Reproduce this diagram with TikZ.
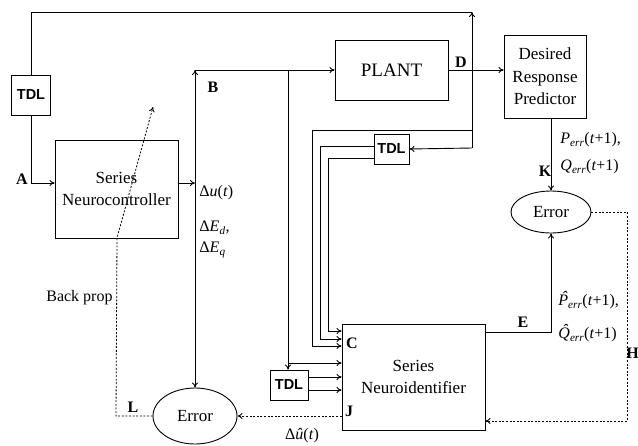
\documentclass[tikz,border=0pt]{standalone}
\usepackage{fontspec}
\setmainfont{Liberation Serif}
\newfontfamily\tdlfont{Liberation Sans}
\usetikzlibrary{arrows.meta,shapes.geometric}
\newcommand\hatcap[1]{\accent"02C6 #1}
\begin{document}
\begin{tikzpicture}[x=1pt,y=-1pt, line width=0.9pt,
  box/.style={draw, rectangle, inner sep=0pt, align=center, font=\fontsize{17}{22.5}\selectfont},
  tdl/.style={draw, rectangle, inner sep=0pt, font=\tdlfont\bfseries\fontsize{14.5}{16}\selectfont},
  errell/.style={draw, ellipse, inner sep=0pt, font=\fontsize{17}{20}\selectfont},
  lbl/.style={font=\bfseries\fontsize{16}{18}\selectfont, inner sep=0pt},
  txt/.style={font=\fontsize{16}{20}\selectfont, inner sep=0pt, anchor=west},
  arr/.style={-{To[length=5pt,width=6pt]}},
  biarr/.style={{To[length=5pt,width=6pt]}-{To[length=5pt,width=6pt]}},
  dsh/.style={dash pattern=on 2pt off 1.6pt, line width=0.8pt},
]
\useasboundingbox[fill=white] (0,0) rectangle (638,445);

% boxes
\node[tdl, minimum width=39pt, minimum height=40pt] (TDL1) at (31,95) {TDL};
\node[box, minimum width=123pt, minimum height=98pt] (NC) at (116.5,189) {Series\\Neurocontroller};
\node[box, minimum width=113pt, minimum height=60pt, font=\fontsize{19}{22}\selectfont] (PLANT) at (391.5,70) {PLANT};
\node[box, minimum width=82pt, minimum height=83pt] (DRP) at (545,76.5) {Desired\\Response\\Predictor};
\node[tdl, minimum width=35pt, minimum height=30pt] (TDL2) at (391.5,149) {TDL};
\node[box, minimum width=143pt, minimum height=106pt] (NI) at (413.5,377) {Series\\Neuroidentifier};
\node[tdl, minimum width=38pt, minimum height=30pt] (TDL3) at (289,385) {TDL};
\node[errell, minimum width=80pt, minimum height=42pt] (Err1) at (551,212) {Error};
\node[errell, minimum width=84pt, minimum height=56pt] (Err2) at (195,416) {Error};

% coordinates
\coordinate (tl) at (31,12);
\coordinate (tr) at (472,12);
\coordinate (dv) at (472,148);
\coordinate (a1) at (31,183);
\coordinate (bv) at (195,183);
\coordinate (bt) at (195,70);
\coordinate (tp) at (288,70);
\coordinate (t3) at (288,363);
\coordinate (o1) at (308,377);
\coordinate (o2) at (308,390);
\coordinate (c1) at (472,130);
\coordinate (c1a) at (312,130);
\coordinate (c1b) at (312,346);
\coordinate (m0) at (374,146);
\coordinate (m1) at (320,146);
\coordinate (m2) at (320,339);
\coordinate (n0) at (374,158);
\coordinate (n1) at (328,158);
\coordinate (n2) at (328,331);
\coordinate (e0) at (485,332);
\coordinate (e1) at (551,332);
\coordinate (h1) at (627,212);
\coordinate (h2) at (627,421);
\coordinate (bp1) at (116,416);
\coordinate (bp2) at (117,238);
\coordinate (bpt) at (153,107);

% connectors
\draw (TDL1.north) -- (tl) -- (tr);
\draw[arr] (dv) -- (tr);
\draw[arr] (dv) -- (TDL2.east);
\draw[arr] (TDL1.south) -- (a1) -- (a1 -| NC.west);
\draw[arr] (bv -| NC.east) -- (bv);
\draw[biarr] (bt) -- (Err2.north);
\draw[arr] (bt) -- (bt -| PLANT.west);
\draw[arr] (PLANT.east) -- (PLANT.east -| DRP.west);
\draw[arr] (tp) -- (tp |- TDL3.north);
\draw[arr] (t3) -- (t3 -| NI.west);
\draw[arr] (o1) -- (o1 -| NI.west);
\draw[arr] (o2) -- (o2 -| NI.west);
\draw[arr] (c1) -- (c1a) -- (c1b) -- (c1b -| NI.west);
\draw[arr] (m0) -- (m1) -- (m2) -- (m2 -| NI.west);
\draw[arr] (n0) -- (n1) -- (n2) -- (n2 -| NI.west);
\draw[arr] (Err1.north |- DRP.south) -- (Err1.north);
\draw[arr] (e0) -- (e1) -- (Err1.south);
\draw[dsh, arr] (Err1.east) -- (h1) -- (h2) -- (h2 -| NI.east);
\draw[dsh, arr] (NI.west |- Err2.east) -- (Err2.east);
\draw[dsh, arr] (Err2.west) -- (bp1) -- (bp2) -- (bpt);

% labels
\node[lbl] (lA) at (22,179) {A};
\node[lbl] (lB) at (213,87) {B};
\node[lbl] (lD) at (461,62) {D};
\node[lbl] (lC) at (352,343) {C};
\node[lbl] (lJ) at (349,411) {J};
\node[lbl] (lE) at (523,322) {E};
\node[lbl] (lK) at (545,171) {K};
\node[lbl] (lL) at (133,407) {L};
\node[lbl, anchor=west] (lH) at (626,353) {H};
\node[txt] (du) at (199,193) {Δ\textit{u}(\textit{t})};
\node[txt] (dEd) at (199,228) {Δ\textit{E}\textsubscript{\textit{d}},};
\node[txt] (dEq) at (199,250) {Δ\textit{E}\textsubscript{\textit{q}}};
\node[txt] (Pe) at (560,140) {\textit{P}\textsubscript{\textit{err}}(\textit{t}+1),};
\node[txt] (Qe) at (560,167) {\textit{Q}\textsubscript{\textit{err}}(\textit{t}+1)};
\node[txt] (Ph) at (558,300) {\textit{\hatcap{P}}\textsubscript{\textit{err}}(\textit{t}+1),};
\node[txt] (Qh) at (558,333) {\textit{\hatcap{Q}}\textsubscript{\textit{err}}(\textit{t}+1)};
\node[txt, anchor=center] (duh) at (302,436) {Δ\textit{û}(\textit{t})};
\node[txt, anchor=east] (bp) at (113,298) {Back prop};
\end{tikzpicture}
\end{document}
